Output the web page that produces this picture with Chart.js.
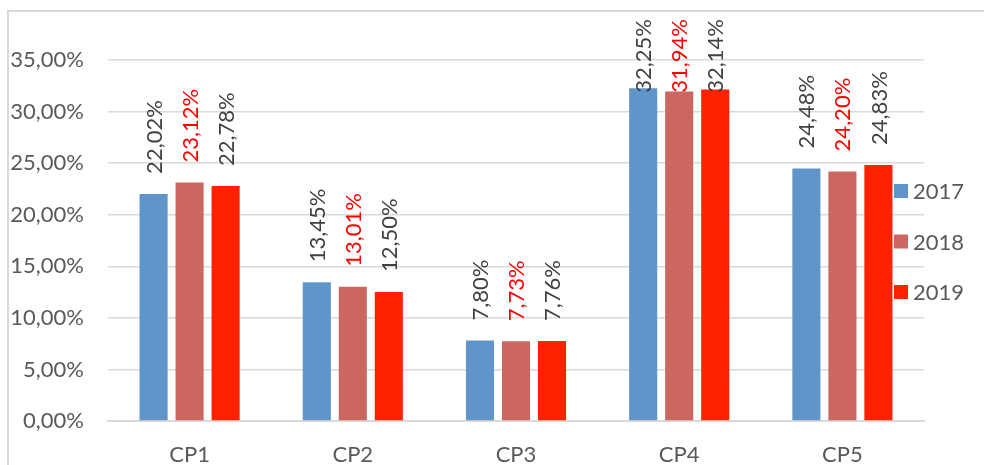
<!DOCTYPE html>
<html>
<head>
<meta charset="utf-8">
<script src="https://cdn.jsdelivr.net/npm/chart.js@4"></script>
<style>
  html, body { margin: 0; padding: 0; background: #fff; }
  #wrap { width: 984px; height: 465px; position: relative; }
</style>
</head>
<body>
<div id="wrap"><canvas id="chart" width="984" height="465"></canvas></div>
<script>
// values
const categories = ['CP1', 'CP2', 'CP3', 'CP4', 'CP5'];
const years = ['2017', '2018', '2019'];
const values2017 = [22.02, 13.45, 7.80, 32.25, 24.48];
const values2018 = [23.12, 13.01, 7.73, 31.94, 24.20];
const values2019 = [22.78, 12.50, 7.76, 32.14, 24.83];
const yTicks = [0, 5, 10, 15, 20, 25, 30, 35];

const FONT = 'Lato, "Liberation Sans", sans-serif';
const GREY = '#595959';

const pct = v => v.toFixed(2).replace('.', ',') + '%';

// frame lines at the top and left edge (the picture is cropped on the other sides)
const framePlugin = {
  id: 'frame',
  beforeDraw(chart) {
    const ctx = chart.ctx;
    ctx.save();
    ctx.fillStyle = '#fff';
    ctx.fillRect(0, 0, chart.width, chart.height);
    ctx.strokeStyle = '#d9d9d9';
    ctx.lineWidth = 2;
    ctx.beginPath();
    ctx.moveTo(8, chart.height);
    ctx.lineTo(8, 11);
    ctx.lineTo(chart.width, 11);
    ctx.stroke();
    ctx.restore();
  }
};

// rotated value labels above each bar, pushed down when they hit the top
const valueLabels = {
  id: 'valueLabels',
  afterDatasetsDraw(chart) {
    const ctx = chart.ctx;
    ctx.save();
    ctx.font = '22px ' + FONT;
    chart.data.datasets.forEach((ds, i) => {
      const meta = chart.getDatasetMeta(i);
      meta.data.forEach((bar, j) => {
        const txt = pct(ds.data[j]);
        const w = ctx.measureText(txt).width;
        const start = Math.max(bar.y - 20, 19 + w);
        ctx.save();
        ctx.translate(bar.x + 1, start);
        ctx.rotate(-Math.PI / 2);
        ctx.fillStyle = ds.labelColor;
        ctx.textAlign = 'left';
        ctx.textBaseline = 'middle';
        ctx.fillText(txt, 0, 0);
        ctx.restore();
      });
    });
    ctx.restore();
  }
};

// legend sits over the right end of the plot, like the original
const sideLegend = {
  id: 'sideLegend',
  afterDraw(chart) {
    const ctx = chart.ctx;
    ctx.save();
    ctx.font = '22px ' + FONT;
    ctx.textBaseline = 'middle';
    ctx.textAlign = 'left';
    chart.data.datasets.forEach((ds, i) => {
      const cy = 191 + i * 50.5;
      ctx.fillStyle = ds.backgroundColor;
      ctx.fillRect(894, cy - 7, 14, 14);
      ctx.fillStyle = GREY;
      ctx.fillText(ds.label, 913, cy + 1);
    });
    ctx.restore();
  }
};

new Chart(document.getElementById('chart').getContext('2d'), {
  type: 'bar',
  data: {
    labels: categories,
    datasets: [
      { label: years[0], data: values2017, backgroundColor: '#6095c9', labelColor: '#404040' },
      { label: years[1], data: values2018, backgroundColor: '#cc6660', labelColor: '#ff0000' },
      { label: years[2], data: values2019, backgroundColor: '#ff2200', labelColor: '#404040' }
    ]
  },
  options: {
    responsive: false,
    animation: false,
    events: [],
    layout: { padding: { top: 60, right: 60, left: 0, bottom: 0 } },
    datasets: {
      bar: { categoryPercentage: 0.662, barPercentage: 0.78 }
    },
    plugins: {
      legend: { display: false },
      tooltip: { enabled: false }
    },
    scales: {
      x: {
        grid: { display: false },
        border: { display: true, color: '#d9d9d9', width: 2 },
        ticks: { color: GREY, font: { family: FONT, size: 22 }, padding: 13 },
        afterFit(scale) { scale.height = 44; }
      },
      y: {
        min: 0,
        max: 35,
        afterBuildTicks(scale) { scale.ticks = yTicks.map(v => ({ value: v })); },
        grid: { color: '#d9d9d9', lineWidth: 1.5, drawTicks: false },
        border: { display: false },
        ticks: {
          color: GREY,
          font: { family: FONT, size: 22 },
          padding: 24,
          callback: v => pct(v)
        },
        afterFit(scale) { scale.width = 108; }
      }
    }
  },
  plugins: [framePlugin, valueLabels, sideLegend]
});
</script>
</body>
</html>
